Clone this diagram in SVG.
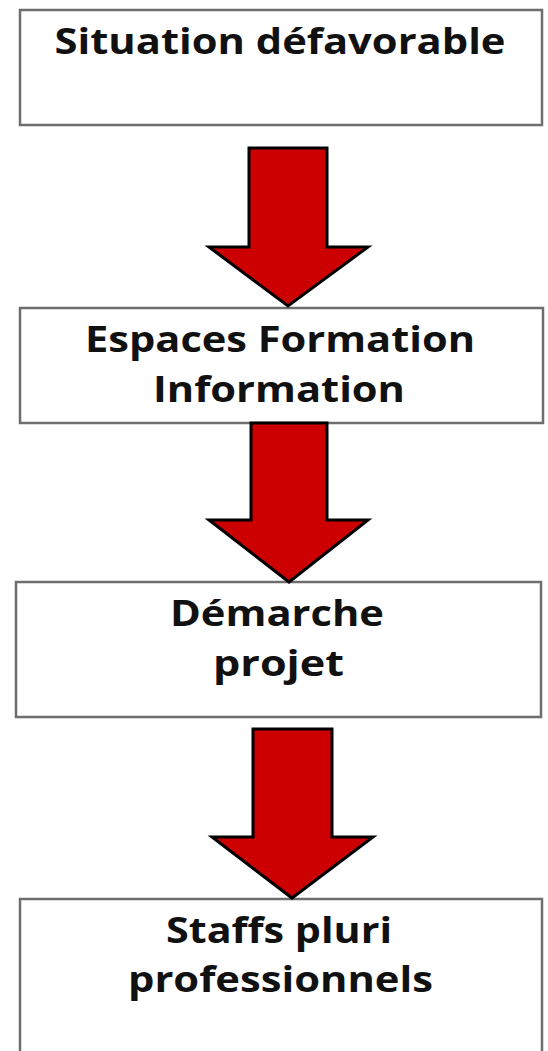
<svg xmlns="http://www.w3.org/2000/svg" width="548" height="1051" viewBox="0 0 548 1051">
<style>
.box{fill:#fff;stroke:#6e6e6e;stroke-width:2.5}
.lbl{font-family:"Open Sans","Liberation Sans",sans-serif;font-weight:700;font-size:36px;fill:#111;text-anchor:middle}
.arr{fill:#cc0000;stroke:#000;stroke-width:3;stroke-linejoin:miter}
</style>
<rect width="548" height="1051" fill="#fff"/>
<g id="node1">
<rect class="box" x="20" y="10" width="522" height="115"/>
<text class="lbl" x="280" y="54" textLength="451" lengthAdjust="spacingAndGlyphs">Situation défavorable</text>
</g>
<g id="node2">
<rect class="box" x="20" y="308" width="523" height="115"/>
<text class="lbl" x="280" y="352" textLength="390" lengthAdjust="spacingAndGlyphs">Espaces Formation</text>
<text class="lbl" x="279" y="402" textLength="252" lengthAdjust="spacingAndGlyphs">Information</text>
</g>
<g id="node3">
<rect class="box" x="16" y="582" width="525" height="135"/>
<text class="lbl" x="277" y="626" textLength="214" lengthAdjust="spacingAndGlyphs">Démarche</text>
<text class="lbl" x="278.5" y="676" textLength="131" lengthAdjust="spacingAndGlyphs">projet</text>
</g>
<g id="node4">
<rect class="box" x="20" y="899" width="522" height="170"/>
<text class="lbl" x="279" y="943" textLength="226" lengthAdjust="spacingAndGlyphs">Staffs pluri</text>
<text class="lbl" x="280.5" y="992" textLength="305" lengthAdjust="spacingAndGlyphs">professionnels</text>
</g>
<g id="connectors">
<path class="arr" d="M249,148 H327 V247 H368 L288,306 L209,247 H249 Z"/>
<path class="arr" d="M251,423 H327 V520 H368 L289,582 L209,520 H251 Z"/>
<path class="arr" d="M253,729 H332 V837 H373 L292,898 L212,837 H253 Z"/>
</g>
</svg>
